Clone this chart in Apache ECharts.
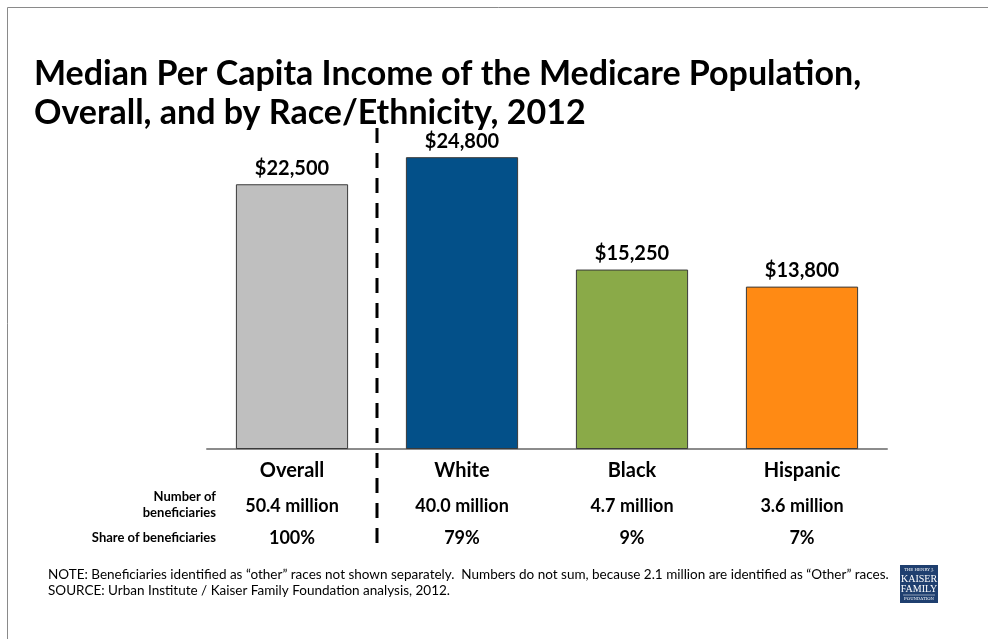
<!DOCTYPE html>
<html>
<head>
<meta charset="utf-8">
<script src="https://cdn.jsdelivr.net/npm/echarts@6/dist/echarts.min.js"></script>
<style>
html,body{margin:0;padding:0;background:#fff;}
#chart{width:988px;height:639px;}
</style>
</head>
<body>
<div id="chart"></div>
<script>
const categories = ['Overall', 'White', 'Black', 'Hispanic'];
const incomeValues = [22500, 24800, 15250, 13800];
const beneficiaryCounts = ['50.4 million', '40.0 million', '4.7 million', '3.6 million'];
const beneficiaryShares = ['100%', '79%', '9%', '7%'];
const barColors = ['#BFBFBF', '#035089', '#8AAA48', '#FF8A14'];
const titleText = 'Median Per Capita Income of the Medicare Population,\nOverall, and by Race/Ethnicity, 2012';
const noteText = 'NOTE: Beneficiaries identified as \u201cother\u201d races not shown separately.  Numbers do not sum, because 2.1 million are identified as \u201cOther\u201d races.';
const sourceText = 'SOURCE: Urban Institute / Kaiser Family Foundation analysis, 2012.';

const FONT = 'Lato, "Open Sans", sans-serif';
const chart = echarts.init(document.getElementById('chart'), null, {renderer: 'canvas'});

const option = {
  animation: false,
  backgroundColor: '#fff',
  title: {
    text: titleText,
    left: 29,
    top: 50,
    textStyle: {fontFamily: FONT, fontWeight: 'bold', fontSize: 34, color: '#000', lineHeight: 39}
  },
  grid: {left: 207, right: 101, top: 96, bottom: 190},
  xAxis: {
    type: 'category',
    data: categories,
    axisLine: {lineStyle: {color: '#8c8c8c', width: 2}},
    axisTick: {show: false},
    axisLabel: {
      margin: 10,
      interval: 0,
      formatter: function (v, i) {
        return '{a|' + v + '}\n{b|' + beneficiaryCounts[i] + '}\n{c|' + beneficiaryShares[i] + '}';
      },
      rich: {
        a: {fontFamily: FONT, fontWeight: 'bold', fontSize: 20, color: '#000', lineHeight: 24, height: 24},
        b: {fontFamily: FONT, fontWeight: 'bold', fontSize: 18, color: '#000', lineHeight: 46, height: 46},
        c: {fontFamily: FONT, fontWeight: 'bold', fontSize: 18, color: '#000', lineHeight: 18, height: 18}
      }
    }
  },
  yAxis: {
    type: 'value', min: 0, max: 30000, show: false,
    splitLine: {show: false}
  },
  series: [{
    type: 'bar',
    data: incomeValues.map((v, i) => ({value: v, itemStyle: {color: barColors[i]}})),
    barWidth: '66%',
    itemStyle: {borderColor: '#3a3a3a', borderWidth: 1},
    label: {
      show: true,
      position: 'top',
      distance: 6,
      fontFamily: FONT,
      fontWeight: 'bold',
      fontSize: 20,
      color: '#000',
      formatter: p => '$' + p.value.toLocaleString('en-US')
    }
  }]
};
chart.setOption(option);

const x0 = chart.convertToPixel({xAxisIndex: 0}, 0);
const x1 = chart.convertToPixel({xAxisIndex: 0}, 1);
const dividerX = Math.round((x0 + x1) / 2);

chart.setOption({
  graphic: [
    {type: 'rect', shape: {x: 7.5, y: 7.5, width: 1000, height: 1000}, style: {fill: 'none', stroke: '#8a8a8a', lineWidth: 1}, silent: true, z: -1},
    {type: 'line', shape: {x1: dividerX, y1: 128, x2: dividerX, y2: 545}, style: {stroke: '#000', lineWidth: 3, lineDash: [15, 10]}},
    {type: 'text', style: {text: 'Number of\nbeneficiaries', x: 216, y: 505, align: 'right', verticalAlign: 'middle', font: 'bold 13px ' + FONT, fill: '#000', lineHeight: 16}},
    {type: 'text', style: {text: 'Share of beneficiaries', x: 216, y: 538, align: 'right', verticalAlign: 'middle', font: 'bold 13px ' + FONT, fill: '#000'}},
    {type: 'text', style: {text: noteText, x: 48, y: 575, verticalAlign: 'middle', font: '13.5px ' + FONT, fill: '#000'}},
    {type: 'text', style: {text: sourceText, x: 48, y: 591, verticalAlign: 'middle', font: '13.5px ' + FONT, fill: '#000'}},
    {type: 'rect', shape: {x: 900, y: 565, width: 38, height: 38}, style: {fill: '#1F3F6F'}},
    {type: 'text', style: {text: 'THE HENRY J.', x: 919, y: 570, align: 'center', verticalAlign: 'middle', font: '4px "DejaVu Serif", serif', fill: '#fff'}},
    {type: 'text', style: {text: 'KAISER', x: 919, y: 579, align: 'center', verticalAlign: 'middle', font: '10px "Liberation Serif", serif', fill: '#fff'}},
    {type: 'text', style: {text: 'FAMILY', x: 919, y: 589, align: 'center', verticalAlign: 'middle', font: '10px "Liberation Serif", serif', fill: '#fff'}},
    {type: 'line', shape: {x1: 903, y1: 595, x2: 935, y2: 595}, style: {stroke: '#fff', lineWidth: 0.5}},
    {type: 'text', style: {text: 'FOUNDATION', x: 919, y: 599, align: 'center', verticalAlign: 'middle', font: '4px "DejaVu Serif", serif', fill: '#fff'}}
  ]
});
</script>
</body>
</html>
